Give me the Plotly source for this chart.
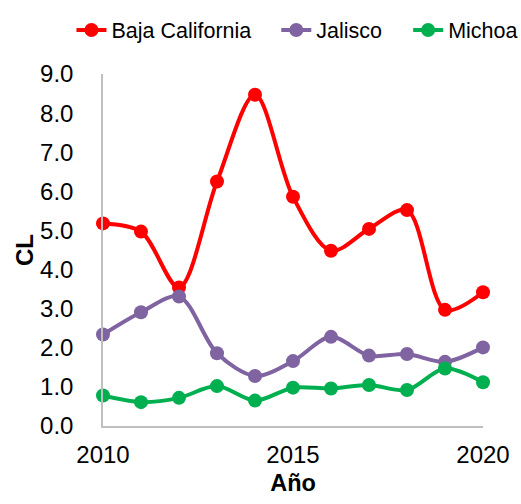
import plotly.graph_objects as go

# Years on the horizontal axis
years = [2010, 2011, 2012, 2013, 2014, 2015, 2016, 2017, 2018, 2019, 2020]

# CL values per state
baja_california = [5.18, 4.97, 3.54, 6.25, 8.47, 5.86, 4.48, 5.04, 5.52, 2.97, 3.42]
jalisco = [2.34, 2.91, 3.31, 1.86, 1.28, 1.66, 2.28, 1.80, 1.84, 1.64, 2.01]
michoacan = [0.78, 0.61, 0.72, 1.02, 0.65, 0.98, 0.96, 1.05, 0.92, 1.47, 1.12]

series_names = ["Baja California", "Jalisco", "Michoa"]
series_colors = ["#FF0000", "#8064A2", "#00B050"]
# one legend box per series, laid out in a row above the plot (paper x of each box)
legend_ids = ["legend", "legend2", "legend3"]
legend_x = [-0.083, 0.456, 0.803]

y_ticks = [0, 1, 2, 3, 4, 5, 6, 7, 8, 9]
x_ticks = [2010, 2015, 2020]

font_family = "Liberation Sans, Arial, sans-serif"

fig = go.Figure()
for name, values, color, lid in zip(series_names, [baja_california, jalisco, michoacan],
                                    series_colors, legend_ids):
    fig.add_trace(go.Scatter(
        x=years, y=values, name=name, mode="lines+markers",
        line=dict(color=color, width=4, shape="spline", smoothing=0.9),
        marker=dict(color=color, size=14),
        cliponaxis=False, legend=lid,
    ))

legend_style = dict(
    orientation="h", xref="paper", yref="paper",
    y=1.125, xanchor="left", yanchor="middle",
    font=dict(size=21.5), itemwidth=30, tracegroupgap=0,
    bgcolor="rgba(0,0,0,0)",
)

fig.update_layout(
    width=521, height=504,
    margin=dict(l=103, r=38, t=74, b=78, autoexpand=False),
    plot_bgcolor="white", paper_bgcolor="white",
    font=dict(family=font_family, size=24, color="black"),
    showlegend=True,
    **{lid: dict(legend_style, x=lx) for lid, lx in zip(legend_ids, legend_x)},
    xaxis=dict(
        range=[2010, 2020], tickvals=x_ticks, ticktext=[str(v) for v in x_ticks],
        showgrid=False, zeroline=False, showline=True, linecolor="#BFBFBF", linewidth=1.5,
        ticks="", ticklabelstandoff=6,
        title=dict(text="<b>Año</b>", font=dict(size=23.5), standoff=8),
    ),
    yaxis=dict(
        range=[0, 9], tickvals=y_ticks, ticktext=[f"{v:.1f}" for v in y_ticks],
        showgrid=False, zeroline=False, showline=True, linecolor="#BFBFBF", linewidth=1.5,
        ticks="", ticklabelstandoff=23,
        title=dict(text="<b>CL</b>", font=dict(size=24), standoff=0),
    ),
)

fig.write_html("out.html")
